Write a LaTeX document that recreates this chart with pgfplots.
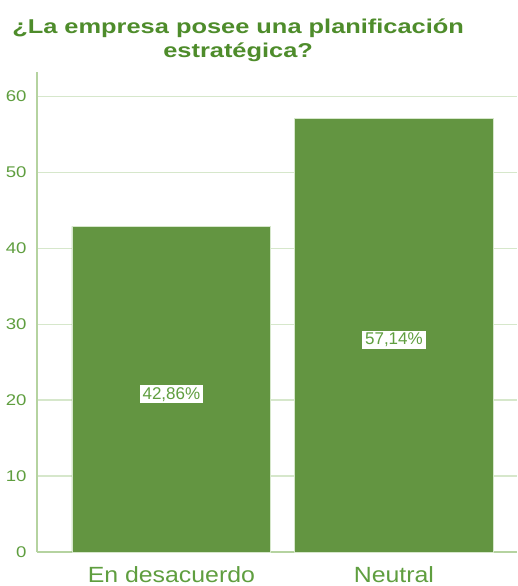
\documentclass[border=0pt]{standalone}
\usepackage{pgfplots}
\pgfplotsset{compat=1.18}
\usepackage{fontspec}
\setmainfont{Liberation Sans}
\newfontfamily\titlefont[FakeStretch=1.27]{Liberation Sans}
\newfontfamily\tickfont[FakeStretch=1.2]{Liberation Sans}
\newfontfamily\catfont[FakeStretch=1.13]{Liberation Sans}
\definecolor{barfill}{HTML}{639541}
\definecolor{titlegreen}{HTML}{4E8C2B}
\definecolor{ticktext}{HTML}{5F9E3F}
\definecolor{gridc}{HTML}{D6E7CB}
\definecolor{axisc}{HTML}{B5D3A0}
\begin{document}
\begin{tikzpicture}
\begin{axis}[
  name=ax,
  scale only axis,
  width=480bp, height=480bp,
  xmin=-0.604, xmax=1.553,
  ymin=0, ymax=63.2,
  axis x line*=bottom, axis y line*=left,
  axis line style={draw=axisc, line width=1.2bp},
  ytick={0,10,20,30,40,50,60},
  xtick={0,1},
  xticklabels={En desacuerdo, Neutral},
  major tick length=0pt,
  ymajorgrids,
  grid style={draw=gridc, line width=1.2bp},
  /pgf/number format/assume math mode=true,
  yticklabel style={font=\tickfont\fontsize{15.5bp}{18bp}\selectfont, text=ticktext, xshift=-7bp},
  xticklabel style={font=\catfont\fontsize{22bp}{26bp}\selectfont, text=ticktext, yshift=-11bp},
  title={¿La empresa posee una planificación\\estratégica?},
  title style={font=\titlefont\fontsize{20bp}{24bp}\selectfont\bfseries, text=titlegreen, align=center,
    at={(axis description cs:0.419,1.054)}, anchor=center},
  clip=false,
]
\addplot[ybar, bar width=0.894, fill=barfill, draw=gridc, line width=0.8bp] coordinates {(0,42.86) (1,57.14)};
\addplot[draw=none, mark=none, nodes near coords, point meta=explicit symbolic,
  every node near coord/.style={anchor=center, fill=white, text=ticktext, inner xsep=3bp, inner ysep=2bp,
    yshift=-5bp, font=\fontsize{17bp}{20bp}\selectfont}]
  coordinates {(0,21.43)[42,86\%] (1,28.57)[57,14\%]};
\end{axis}
\pgfresetboundingbox
\path[use as bounding box] ([shift={(-37bp,-34bp)}]ax.south west) rectangle ([shift={(1bp,72bp)}]ax.north east);
\end{tikzpicture}
\end{document}
